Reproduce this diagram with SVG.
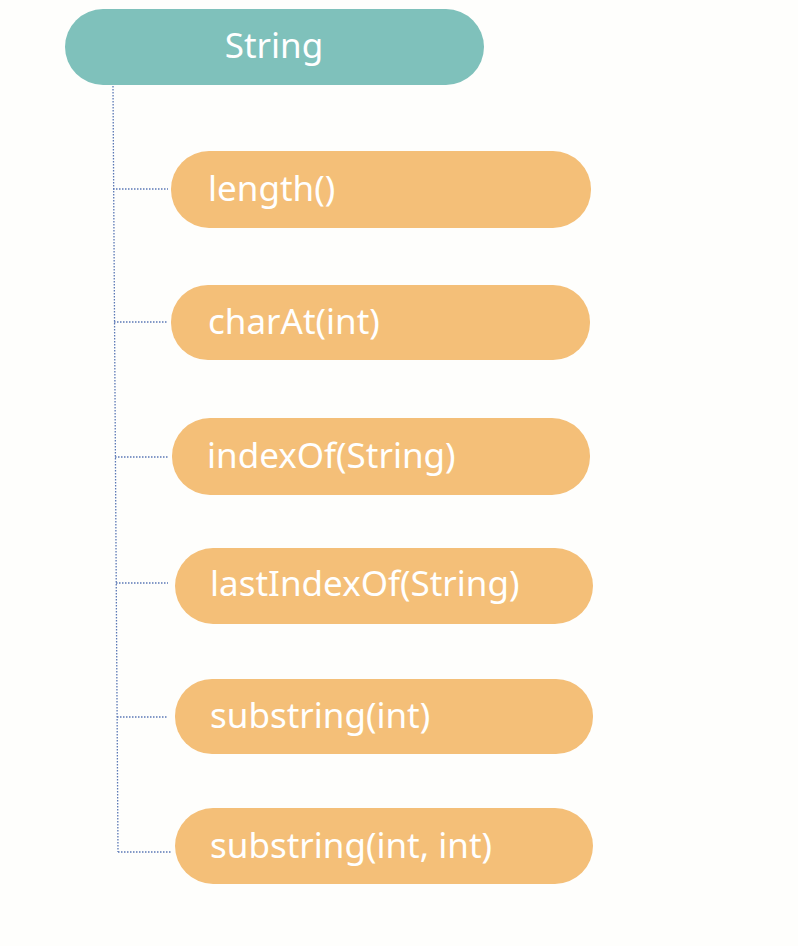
<svg xmlns="http://www.w3.org/2000/svg" width="798" height="946" viewBox="0 0 798 946">
<style>
.bg{fill:#fefefc}
.root{fill:#7fc1bb}
.child{fill:#f4bf78}
.t{font-family:"Noto Sans","Open Sans",sans-serif;font-size:35px;fill:#ffffff}
.c{stroke:#5b78b5;stroke-width:1.3;stroke-dasharray:1.5 1.5;fill:none}
</style>
<rect class="bg" width="798" height="946"/>
<g id="connectors">
<path class="c" d="M113 86 L118 852"/>
<path class="c" d="M113 189 H168"/>
<path class="c" d="M114 322 H168"/>
<path class="c" d="M115 457 H168"/>
<path class="c" d="M116 583 H168"/>
<path class="c" d="M117 717 H168"/>
<path class="c" d="M118 852 H172"/>
</g>
<g id="root">
<rect class="root" x="65" y="9" width="419" height="76" rx="38"/>
<text class="t" x="274" y="58" text-anchor="middle">String</text>
</g>
<g id="n1">
<rect class="child" x="171" y="151" width="420" height="77" rx="38"/>
<text class="t" x="208" y="201">length()</text>
</g>
<g id="n2">
<rect class="child" x="171" y="285" width="419" height="75" rx="37"/>
<text class="t" x="208" y="334">charAt(int)</text>
</g>
<g id="n3">
<rect class="child" x="172" y="418" width="418" height="77" rx="38"/>
<text class="t" x="207" y="468">indexOf(String)</text>
</g>
<g id="n4">
<rect class="child" x="175" y="548" width="418" height="76" rx="38"/>
<text class="t" x="210" y="596">lastIndexOf(String)</text>
</g>
<g id="n5">
<rect class="child" x="175" y="679" width="418" height="75" rx="37"/>
<text class="t" x="210" y="728">substring(int)</text>
</g>
<g id="n6">
<rect class="child" x="175" y="808" width="418" height="76" rx="38"/>
<text class="t" x="210" y="858">substring(int, int)</text>
</g>
</svg>
